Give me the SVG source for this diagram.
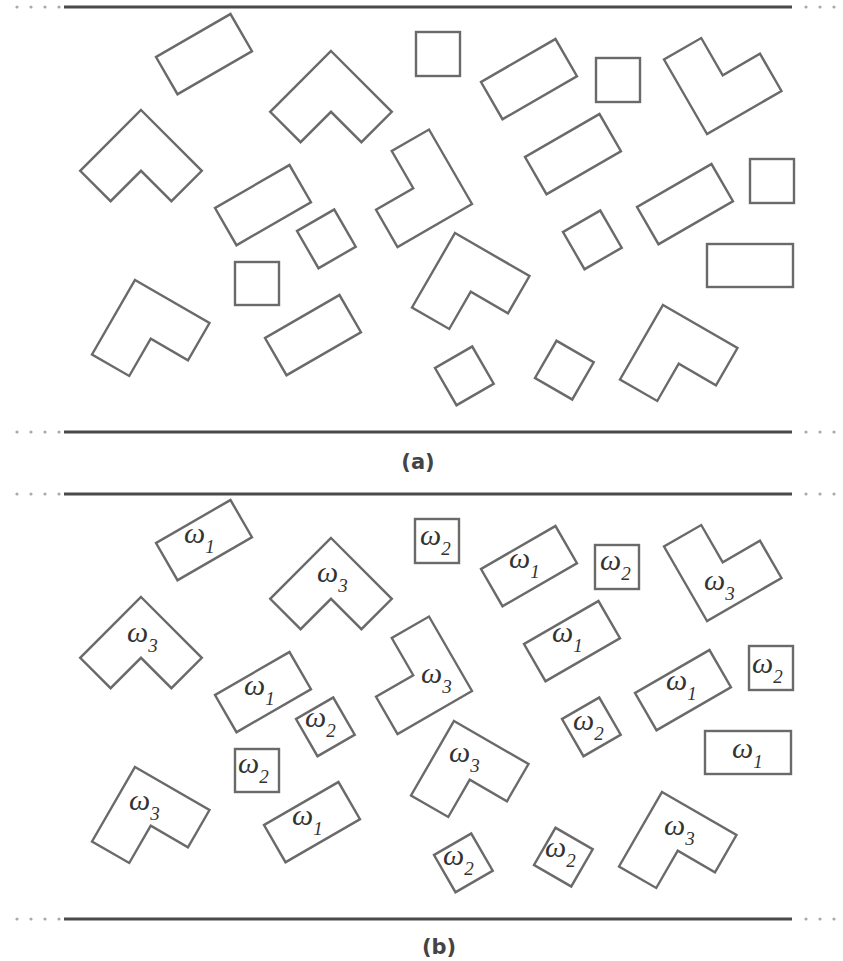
<svg xmlns="http://www.w3.org/2000/svg" width="843" height="961" viewBox="0 0 843 961">
<style>
.s{fill:none;stroke:#6a6a6a;stroke-width:2.4;stroke-linejoin:miter}
.ln{stroke:#4a4a4a;stroke-width:3.2}
.dot{fill:#aaa}
.lbl{font-family:"Liberation Serif",serif;font-style:italic;font-size:30px;fill:#333}
.sub{font-size:19px}
.cap{font-family:"DejaVu Sans",sans-serif;font-size:21px;font-weight:bold;fill:#444}
</style>
<defs>
<polygon id="R" points="0,0 86,0 86,43 0,43"/>
<polygon id="Q" points="0,0 43,0 43,43 0,43"/>
<polygon id="L" points="0,0 86,0 86,43 43,43 43,86 0,86"/>
<g id="dotsL"><circle cx="17" cy="0" r="1.6"/><circle cx="31" cy="0" r="1.6"/><circle cx="45" cy="0" r="1.6"/><circle cx="59" cy="0" r="1.6"/></g>
<g id="dotsR"><circle cx="806" cy="0" r="1.6"/><circle cx="820" cy="0" r="1.6"/><circle cx="834" cy="0" r="1.6"/></g>
</defs>

<g id="connectors">
<line class="ln" x1="64" y1="7" x2="792" y2="7"/>
<use href="#dotsL" class="dot" y="7"/><use href="#dotsR" class="dot" y="7"/>
<line class="ln" x1="64" y1="432" x2="792" y2="432"/>
<use href="#dotsL" class="dot" y="432"/><use href="#dotsR" class="dot" y="432"/>
<line class="ln" x1="64" y1="494" x2="792" y2="494"/>
<use href="#dotsL" class="dot" y="494"/><use href="#dotsR" class="dot" y="494"/>
<line class="ln" x1="64" y1="919" x2="792" y2="919"/>
<use href="#dotsL" class="dot" y="919"/><use href="#dotsR" class="dot" y="919"/>
</g>

<!-- Panel (a) -->
<g id="a-R1"><use href="#R" class="s" transform="translate(156,57) rotate(-30)"/></g>
<g id="a-R2"><use href="#R" class="s" transform="translate(481,82) rotate(-30)"/></g>
<g id="a-R3"><use href="#R" class="s" transform="translate(215,208) rotate(-30)"/></g>
<g id="a-R4"><use href="#R" class="s" transform="translate(525,157) rotate(-30)"/></g>
<g id="a-R5"><use href="#R" class="s" transform="translate(637,207) rotate(-30)"/></g>
<g id="a-R6"><rect class="s" x="707" y="244" width="86" height="43"/></g>
<g id="a-R7"><use href="#R" class="s" transform="translate(265,338) rotate(-30)"/></g>
<g id="a-A1"><rect class="s" x="416" y="32" width="44" height="44"/></g>
<g id="a-A2"><rect class="s" x="596" y="58" width="44" height="44"/></g>
<g id="a-A3"><rect class="s" x="750" y="159" width="44" height="44"/></g>
<g id="a-A4"><rect class="s" x="235" y="262" width="44" height="43"/></g>
<g id="a-B1"><use href="#Q" class="s" transform="translate(563,232) rotate(-30)"/></g>
<g id="a-B2"><use href="#Q" class="s" transform="translate(297,231) rotate(-30)"/></g>
<g id="a-B3"><use href="#Q" class="s" transform="translate(435,368) rotate(-30)"/></g>
<g id="a-B4"><use href="#Q" class="s" transform="translate(535,378) rotate(-60)"/></g>
<g id="a-L1"><use href="#L" class="s" transform="translate(331,51) rotate(45)"/></g>
<g id="a-L2"><use href="#L" class="s" transform="translate(141,110) rotate(45)"/></g>
<g id="a-L3"><use href="#L" class="s" transform="translate(707,134) rotate(-120)"/></g>
<g id="a-L4"><use href="#L" class="s" transform="translate(472,204) rotate(150)"/></g>
<g id="a-L5"><use href="#L" class="s" transform="translate(135,280) rotate(30)"/></g>
<g id="a-L6"><use href="#L" class="s" transform="translate(455,233) rotate(30)"/></g>
<g id="a-L7"><use href="#L" class="s" transform="translate(663,305) rotate(30)"/></g>
<g id="cap-a"><text class="cap" x="418" y="469" text-anchor="middle">(a)</text></g>

<!-- Panel (b) -->
<g id="b-R1"><use href="#R" class="s" transform="translate(156,543) rotate(-30)"/><text class="lbl" x="184" y="543">ω<tspan class="sub" dy="10">1</tspan></text></g>
<g id="b-R2"><use href="#R" class="s" transform="translate(481,569) rotate(-30)"/><text class="lbl" x="509" y="568">ω<tspan class="sub" dy="10">1</tspan></text></g>
<g id="b-R3"><use href="#R" class="s" transform="translate(215,695) rotate(-30)"/><text class="lbl" x="244" y="695">ω<tspan class="sub" dy="10">1</tspan></text></g>
<g id="b-R4"><use href="#R" class="s" transform="translate(524,644) rotate(-30)"/><text class="lbl" x="552" y="642">ω<tspan class="sub" dy="10">1</tspan></text></g>
<g id="b-R5"><use href="#R" class="s" transform="translate(635,693) rotate(-30)"/><text class="lbl" x="666" y="690">ω<tspan class="sub" dy="10">1</tspan></text></g>
<g id="b-R6"><rect class="s" x="705" y="731" width="86" height="43"/><text class="lbl" x="732" y="758">ω<tspan class="sub" dy="10">1</tspan></text></g>
<g id="b-R7"><use href="#R" class="s" transform="translate(264,825) rotate(-30)"/><text class="lbl" x="292" y="825">ω<tspan class="sub" dy="10">1</tspan></text></g>
<g id="b-A1"><rect class="s" x="415" y="519" width="44" height="44"/><text class="lbl" x="420" y="545">ω<tspan class="sub" dy="10">2</tspan></text></g>
<g id="b-A2"><rect class="s" x="595" y="545" width="44" height="44"/><text class="lbl" x="600" y="570">ω<tspan class="sub" dy="10">2</tspan></text></g>
<g id="b-A3"><rect class="s" x="749" y="646" width="44" height="44"/><text class="lbl" x="752" y="673">ω<tspan class="sub" dy="10">2</tspan></text></g>
<g id="b-A4"><rect class="s" x="235" y="749" width="44" height="43"/><text class="lbl" x="238" y="773">ω<tspan class="sub" dy="10">2</tspan></text></g>
<g id="b-B1"><use href="#Q" class="s" transform="translate(562,719) rotate(-30)"/><text class="lbl" x="573" y="730">ω<tspan class="sub" dy="10">2</tspan></text></g>
<g id="b-B2"><use href="#Q" class="s" transform="translate(296,719) rotate(-30)"/><text class="lbl" x="305" y="727">ω<tspan class="sub" dy="10">2</tspan></text></g>
<g id="b-B3"><use href="#Q" class="s" transform="translate(434,855) rotate(-30)"/><text class="lbl" x="443" y="865">ω<tspan class="sub" dy="10">2</tspan></text></g>
<g id="b-B4"><use href="#Q" class="s" transform="translate(534,865) rotate(-60)"/><text class="lbl" x="545" y="857">ω<tspan class="sub" dy="10">2</tspan></text></g>
<g id="b-L1"><use href="#L" class="s" transform="translate(331,538) rotate(45)"/><text class="lbl" x="317" y="582">ω<tspan class="sub" dy="10">3</tspan></text></g>
<g id="b-L2"><use href="#L" class="s" transform="translate(141,597) rotate(45)"/><text class="lbl" x="127" y="642">ω<tspan class="sub" dy="10">3</tspan></text></g>
<g id="b-L3"><use href="#L" class="s" transform="translate(707,621) rotate(-120)"/><text class="lbl" x="704" y="590">ω<tspan class="sub" dy="10">3</tspan></text></g>
<g id="b-L4"><use href="#L" class="s" transform="translate(472,691) rotate(150)"/><text class="lbl" x="421" y="683">ω<tspan class="sub" dy="10">3</tspan></text></g>
<g id="b-L5"><use href="#L" class="s" transform="translate(135,767) rotate(30)"/><text class="lbl" x="129" y="810">ω<tspan class="sub" dy="10">3</tspan></text></g>
<g id="b-L6"><use href="#L" class="s" transform="translate(454,721) rotate(30)"/><text class="lbl" x="449" y="762">ω<tspan class="sub" dy="10">3</tspan></text></g>
<g id="b-L7"><use href="#L" class="s" transform="translate(662,792) rotate(30)"/><text class="lbl" x="664" y="835">ω<tspan class="sub" dy="10">3</tspan></text></g>
<g id="cap-b"><text class="cap" x="439" y="954" text-anchor="middle">(b)</text></g>
</svg>
